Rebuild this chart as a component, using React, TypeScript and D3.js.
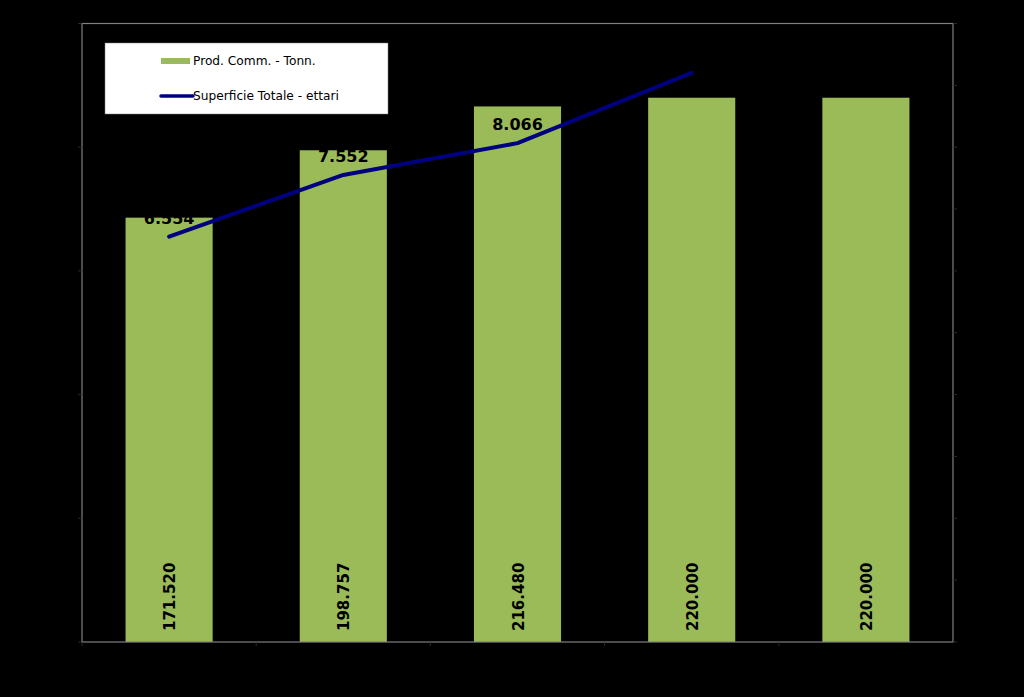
import React, { useEffect } from "react";
import * as d3 from "d3";

const categories = ["2006", "2007", "2008", "2009", "2010"];
const prodValues = [171520, 198757, 216480, 220000, 220000];
const prodLabels = ["171.520", "198.757", "216.480", "220.000", "220.000"];
const surfValues: (number | null)[] = [6.554, 7.552, 8.066, 9.2, null];
const surfLabels = ["6.554", "7.552", "8.066", "9.200", ""];
const leftTicks = [0, 50000, 100000, 150000, 200000, 250000];
const rightTicks = [0, 1, 2, 3, 4, 5, 6, 7, 8, 9, 10];

const W = 1024;
const H = 697;
const M = { left: 82, right: 953, top: 23.5, bottom: 642 };

export default function App() {
  useEffect(() => {
    document.body.style.margin = "0";
    document.body.style.background = "#000";
  }, []);

  const x = d3.scaleBand<string>().domain(categories).range([M.left, M.right]).paddingInner(0.5).paddingOuter(0.25);
  const xb = d3.scaleBand<string>().domain(categories).range([M.left, M.right]);
  const yL = d3.scaleLinear().domain([0, 250000]).range([M.bottom, M.top]);
  const yR = d3.scaleLinear().domain([0, 10]).range([M.bottom, M.top]);

  const linePts = categories
    .map((c, i) => ({ c, v: surfValues[i], l: surfLabels[i] }))
    .filter((d) => d.v !== null) as { c: string; v: number; l: string }[];
  const lineGen = d3
    .line<{ c: string; v: number }>()
    .x((d) => (xb(d.c) as number) + xb.bandwidth() / 2)
    .y((d) => yR(d.v));

  const font = "'DejaVu Sans', Verdana, sans-serif";
  const gray = "#7f7f7f";

  return (
    <svg width={W} height={H} style={{ display: "block", background: "#000" }}>
      <rect x={0} y={0} width={W} height={H} fill="#000" />
      {categories.map((c, i) => (
        <rect
          key={c}
          x={x(c)}
          y={yL(prodValues[i])}
          width={x.bandwidth()}
          height={M.bottom - yL(prodValues[i])}
          fill="#9bbb59"
        />
      ))}
      <rect
        x={M.left}
        y={M.top}
        width={M.right - M.left}
        height={M.bottom - M.top}
        fill="none"
        stroke={gray}
        strokeWidth={1.2}
      />
      {leftTicks.map((t) => (
        <line key={"l" + t} x1={M.left - 4} x2={M.left} y1={yL(t)} y2={yL(t)} stroke="#2a2a2a" />
      ))}
      {rightTicks.map((t) => (
        <line key={"r" + t} x1={M.right} x2={M.right + 4} y1={yR(t)} y2={yR(t)} stroke="#2a2a2a" />
      ))}
      {categories.map((c) => (
        <line
          key={"x" + c}
          x1={xb(c) as number}
          x2={xb(c) as number}
          y1={M.bottom}
          y2={M.bottom + 4}
          stroke="#2a2a2a"
        />
      ))}
      {categories.map((c, i) => {
        const cx = (x(c) as number) + x.bandwidth() / 2;
        const by = M.bottom - 11;
        return (
          <text
            key={"bl" + c}
            transform={`translate(${cx + 6},${by}) rotate(-90)`}
            fontFamily={font}
            fontWeight="bold"
            fontSize={15}
            fill="#000"
            textAnchor="start"
          >
            {prodLabels[i]}
          </text>
        );
      })}
      <path d={lineGen(linePts) || ""} fill="none" stroke="#000080" strokeWidth={4} strokeLinejoin="round" strokeLinecap="round" />
      {linePts.map((d) => (
        <text
          key={"ll" + d.c}
          x={(xb(d.c) as number) + xb.bandwidth() / 2}
          y={yR(d.v) - 13}
          fontFamily={font}
          fontWeight="bold"
          fontSize={16}
          fill="#000"
          textAnchor="middle"
        >
          {d.l}
        </text>
      ))}
      <rect x={105} y={43} width={283} height={71} fill="#fff" stroke={gray} strokeWidth={0.5} />
      <rect x={161} y={58} width={29} height={6} fill="#9bbb59" />
      <text x={193} y={65} fontFamily={font} fontSize={12.2} fill="#000">
        Prod. Comm. - Tonn.
      </text>
      <line x1={161} x2={193} y1={96} y2={96} stroke="#000080" strokeWidth={3.5} strokeLinecap="round" />
      <text x={193} y={100} fontFamily={font} fontSize={12.2} fill="#000">
        Superficie Totale - ettari
      </text>
    </svg>
  );
}
